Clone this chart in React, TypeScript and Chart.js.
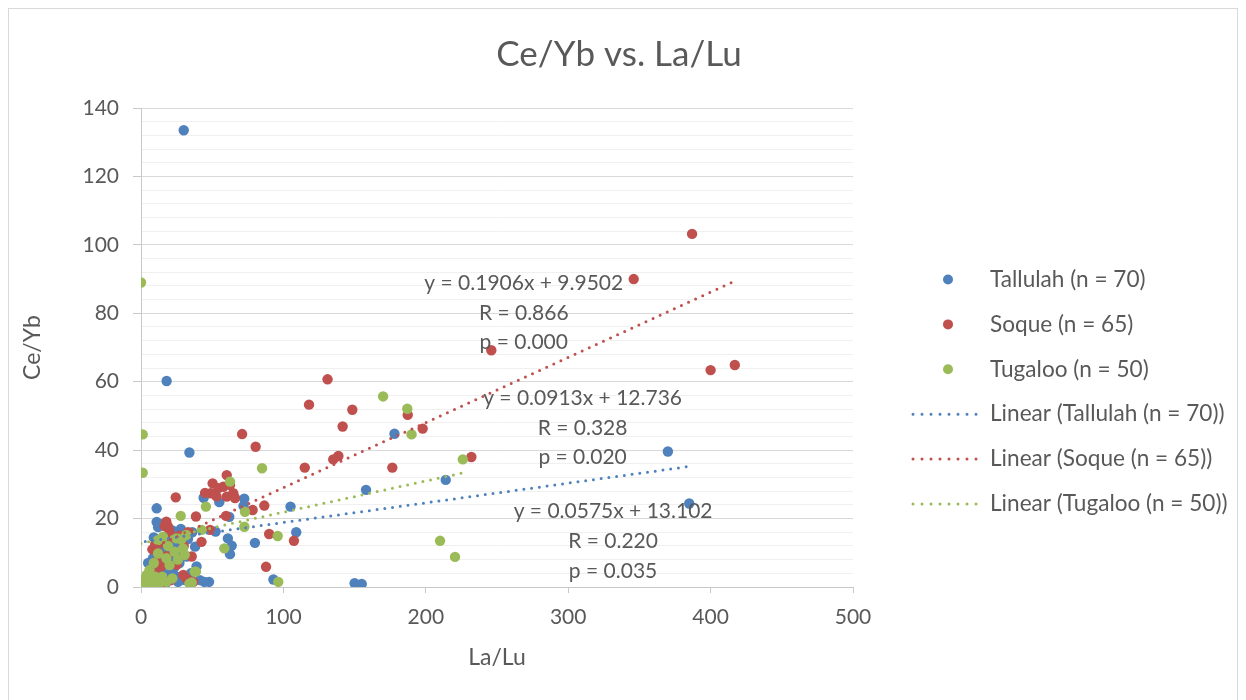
import React, { useEffect, useRef } from "react";
import { Chart, registerables } from "chart.js";

Chart.register(...registerables);

// ---------- data (La/Lu, Ce/Yb) ----------
const tallulah: [number, number][] = [
  [30, 133.5], [18, 60.2], [34, 39.3], [11, 23], [370, 39.6], [385, 24.4], [178, 44.8], [214, 31.3],
  [158, 28.4], [150, 1.1], [155, 0.9], [105, 23.5], [109, 16], [44, 26.1], [55, 24.8], [72.5, 25.8],
  [72, 23.7], [62, 20.5], [52.4, 16.2], [80, 12.9], [61, 14.2], [63.7, 12.1], [62.5, 9.6], [93, 2.2],
  [47.8, 1.5], [41.4, 2], [38, 11.8], [32, 8.9], [18, 1.4], [30.7, 2], [20, 15.2], [22.5, 12.3],
  [8.4, 8.4], [7.2, 5.9], [8.4, 3], [16.6, 1.5], [44.5, 1.5],
  [5, 7], [6, 4.5], [9, 6.5], [10, 10.5], [12, 12], [13, 8], [14, 5], [15, 9.5], [17, 14], [18, 11],
  [19, 7.5], [21, 9], [22, 16.5], [23, 5.5], [24, 11], [25, 3], [26, 13.5], [27, 7], [28, 17], [29, 10],
  [33, 14], [35, 4], [36, 16], [12, 17.5], [14, 2.5], [4, 2.5], [9, 14.5], [11, 19], [20, 4], [26, 1.5],
  [39, 6], [16, 18.5], [3, 1.5],
];

const soque: [number, number][] = [
  [346, 90], [387, 103.2], [400, 63.4], [417, 64.9], [246, 69.2], [131, 60.7], [118, 53.3], [148.4, 51.8],
  [141.6, 46.9], [187.3, 50.3], [197.8, 46.3], [135, 37.3], [138.6, 38.3], [115, 34.9], [176.5, 34.9],
  [232, 38], [107.4, 13.5], [71, 44.7], [80.5, 41], [60.2, 32.7], [50.3, 30.3], [49, 27.4], [54.3, 28.9],
  [57.8, 29.3], [62.5, 29.8], [64.8, 27.4], [60.2, 26.4], [24.4, 26.2], [78.4, 22.5], [86.6, 23.8],
  [38.6, 20.6], [59.7, 20.8], [17.8, 19.1], [19, 17.6], [16.6, 17.8], [20.1, 16.2], [48.5, 16.7],
  [90, 15.5], [42.5, 13.2], [87.8, 5.9], [29.7, 3.5], [33.2, 2], [36.7, 1.5], [35.6, 8.9], [31.8, 2.5],
  [8, 11], [10, 12.5], [12, 10], [14, 6], [6, 2], [9, 4], [11, 7.5], [13, 3], [15, 13], [18, 9],
  [22, 14.5], [25, 6.5], [27, 15], [30, 12], [33, 16], [21, 2], [16, 1], [45, 27.5], [53, 26.5], [66, 26],
];

const tugaloo: [number, number][] = [
  [0, 89], [1.2, 44.6], [1.2, 33.4], [170, 55.7], [187, 52.1], [190, 44.6], [226, 37.3], [210, 13.5],
  [220.5, 8.8], [85, 34.7], [62.5, 30.8], [45.6, 23.5], [73, 22], [27.9, 20.8], [42.6, 16.7], [72.6, 17.6],
  [96, 14.9], [58.5, 11.3], [96.4, 1.5], [38.6, 4.5], [35.6, 1.3], [0.2, 2], [15.4, 14.7], [11.9, 13.7],
  [24.8, 14.2], [28.3, 13.9], [31.8, 15.2], [12, 9.8], [17.8, 8.4], [20.1, 6.4], [23.6, 10.3], [29.5, 11.3],
  [30.7, 9.4], [17.8, 1.5], [14.9, 3], [37.7, 4.5],
  [3, 1], [4, 3.5], [5, 1.5], [6, 5], [7, 2.5], [8, 1], [9, 7], [10, 3], [2, 0.8], [13, 1.2], [19, 12],
  [22, 2.5], [26, 8], [34, 1],
];

const seriesNames = ["Tallulah (n = 70)", "Soque (n = 65)", "Tugaloo (n = 50)"];
const seriesColors = ["#4F81BD", "#C0504D", "#9BBB59"];

// linear trend lines (Excel fits)
const trendSlopes = [0.0575, 0.1906, 0.0913];
const trendIntercepts = [13.102, 9.9502, 12.736];
const trendEquations = ["y = 0.0575x + 13.102", "y = 0.1906x + 9.9502", "y = 0.0913x + 12.736"];
const trendR = ["R = 0.220", "R = 0.866", "R = 0.328"];
const trendP = ["p = 0.035", "p = 0.000", "p = 0.020"];
// label anchors in data units (centre of first text line)
const labelAnchorX = [331.5, 268.8, 310.1];
const labelAnchorY = [22.0, 88.8, 55.2];

const chartTitle = "Ce/Yb vs. La/Lu";
const xTitle = "La/Lu";
const yTitle = "Ce/Yb";
const xTicks = { min: 0, max: 500, step: 100 };
const yTicks = { min: 0, max: 140, step: 4, major: 20 };

const FONT = "Lato, 'Noto Sans', sans-serif";
const TEXT = "#595959";

export default function App() {
  const ref = useRef<HTMLCanvasElement | null>(null);

  useEffect(() => {
    const canvas = ref.current;
    if (!canvas) return;
    const all = [tallulah, soque, tugaloo];

    const pointSets = all.map((pts, i) => ({
      label: seriesNames[i],
      data: pts.map(([x, y]) => ({ x, y })),
      backgroundColor: seriesColors[i],
      borderColor: seriesColors[i],
      pointRadius: 5.2,
      pointBorderWidth: 0,
      pointHoverRadius: 5.2,
      showLine: false,
      order: 6 - i,
    }));

    const trendSets = all.map((pts, i) => {
      const xs = pts.map((p) => p[0]);
      const x0 = Math.min(...xs);
      const x1 = Math.max(...xs);
      return {
        label: "Linear (" + seriesNames[i] + ")",
        data: [
          { x: x0, y: trendSlopes[i] * x0 + trendIntercepts[i] },
          { x: x1, y: trendSlopes[i] * x1 + trendIntercepts[i] },
        ],
        showLine: true,
        borderColor: seriesColors[i],
        backgroundColor: seriesColors[i],
        borderWidth: 3,
        borderDash: [0, 7.8],
        borderCapStyle: "round",
        pointRadius: 0,
        order: 3 - i,
      };
    });

    const overlay = {
      id: "overlay",
      afterDraw(chart: any) {
        const ctx = chart.ctx as CanvasRenderingContext2D;
        const xs = chart.scales.x;
        const ys = chart.scales.y;
        ctx.save();
        ctx.fillStyle = TEXT;
        ctx.textAlign = "center";
        ctx.textBaseline = "middle";
        ctx.font = `35px ${FONT}`;
        ctx.fillText(chartTitle, 610, 46);

        ctx.font = `21px ${FONT}`;
        for (let i = 0; i < 3; i++) {
          const px = xs.getPixelForValue(labelAnchorX[i]);
          const py = ys.getPixelForValue(labelAnchorY[i]);
          [trendEquations[i], trendR[i], trendP[i]].forEach((t, j) => {
            ctx.fillText(t, px, py + j * 29.7);
          });
        }

        // legend
        const rowY0 = 270.5;
        const rowStep = 44.9;
        const labels = [
          ...seriesNames,
          ...seriesNames.map((n) => "Linear (" + n + ")"),
        ];
        ctx.textAlign = "left";
        ctx.font = `22.6px ${FONT}`;
        labels.forEach((lab, k) => {
          const y = rowY0 + k * rowStep;
          const c = seriesColors[k % 3];
          if (k < 3) {
            ctx.beginPath();
            ctx.fillStyle = c;
            ctx.arc(939, y, 5, 0, Math.PI * 2);
            ctx.fill();
          } else {
            ctx.beginPath();
            ctx.strokeStyle = c;
            ctx.lineWidth = 3;
            ctx.lineCap = "round";
            ctx.setLineDash([0, 9]);
            ctx.moveTo(904, y);
            ctx.lineTo(968, y);
            ctx.stroke();
            ctx.setLineDash([]);
          }
          ctx.fillStyle = TEXT;
          ctx.fillText(lab, 981, y);
        });
        ctx.restore();
      },
    };

    const chart = new Chart(canvas, {
      type: "scatter",
      data: { datasets: [...pointSets, ...trendSets] as any },
      options: {
        responsive: false,
        animation: false,
        events: [],
        layout: { padding: { left: 0, right: 384, top: 99, bottom: 0 } },
        plugins: {
          legend: { display: false },
          title: { display: false },
          tooltip: { enabled: false },
        },
        scales: {
          x: {
            type: "linear",
            min: xTicks.min,
            max: xTicks.max,
            ticks: {
              stepSize: xTicks.step,
              color: TEXT,
              font: { family: FONT, size: 21 },
              padding: 12,
              maxRotation: 0,
            },
            grid: {
              drawOnChartArea: false,
              drawTicks: true,
              tickLength: 6,
              color: "#c8c8c8",
            },
            border: { display: true, color: "#c8c8c8" },
            title: {
              display: true,
              text: xTitle,
              color: TEXT,
              font: { family: FONT, size: 23 },
              padding: { top: 0, bottom: 29 },
            },
            afterFit(scale: any) {
              scale.height = 113;
            },
          },
          y: {
            type: "linear",
            min: yTicks.min,
            max: yTicks.max,
            ticks: {
              stepSize: yTicks.step,
              autoSkip: false,
              color: TEXT,
              font: { family: FONT, size: 21 },
              padding: 14,
              callback: (v: any) => (Number(v) % yTicks.major === 0 ? String(v) : ""),
            },
            grid: {
              color: (c: any) => (c.tick && c.tick.value % yTicks.major === 0 ? "#d9d9d9" : "#f0f0f0"),
              tickColor: (c: any) => (c.tick && c.tick.value % yTicks.major === 0 ? "#c8c8c8" : "rgba(0,0,0,0)"),
              tickLength: 8,
              lineWidth: 1,
            },
            border: { display: true, color: "#c8c8c8" },
            title: {
              display: true,
              text: yTitle,
              color: TEXT,
              font: { family: FONT, size: 23 },
              padding: { top: 10, bottom: 0 },
            },
            afterFit(scale: any) {
              scale.width = 132;
            },
          },
        },
      },
      plugins: [overlay],
    });

    return () => chart.destroy();
  }, []);

  return (
    <div
      style={{
        width: 1228,
        height: 691,
        borderTop: "1px solid #d9d9d9",
        borderLeft: "1px solid #d9d9d9",
        borderRight: "1px solid #d9d9d9",
        background: "#ffffff",
      }}
    >
      <canvas ref={ref} width={1228} height={691} style={{ display: "block" }} />
    </div>
  );
}
